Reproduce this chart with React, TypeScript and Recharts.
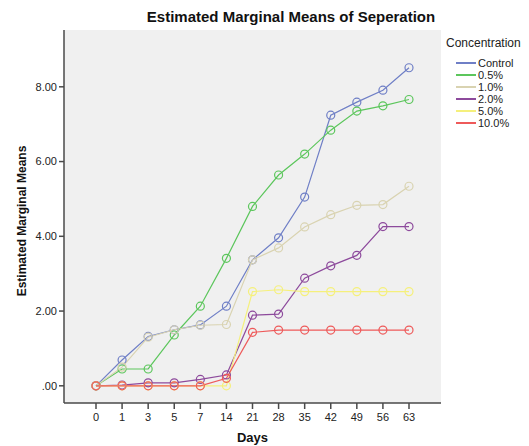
import { LineChart, Line, XAxis, YAxis, CartesianGrid, Legend } from 'recharts'

const days = ['0', '1', '3', '5', '7', '14', '21', '28', '35', '42', '49', '56', '63']

const control = [0, 0.69, 1.32, 1.5, 1.63, 2.13, 3.37, 3.96, 5.05, 7.24, 7.59, 7.91, 8.51]
const conc05 = [0, 0.45, 0.45, 1.36, 2.13, 3.41, 4.8, 5.64, 6.2, 6.84, 7.35, 7.49, 7.66]
const conc10 = [0, 0.5, 1.3, 1.5, 1.62, 1.64, 3.37, 3.69, 4.25, 4.58, 4.83, 4.85, 5.34]
const conc20 = [0, 0.02, 0.08, 0.08, 0.17, 0.29, 1.89, 1.92, 2.88, 3.21, 3.49, 4.26, 4.26]
const conc50 = [0, 0, 0, 0, 0, 0, 2.52, 2.57, 2.52, 2.52, 2.52, 2.52, 2.52]
const conc100 = [0, 0, 0, 0, 0, 0.2, 1.43, 1.49, 1.49, 1.49, 1.49, 1.49, 1.49]

const yTicks = [0, 2, 4, 6, 8]

const series = [
  { key: 'control', name: 'Control', color: '#6f7fc6', values: control },
  { key: 'c05', name: '0.5%', color: '#5cc65c', values: conc05 },
  { key: 'c10', name: '1.0%', color: '#d9d3b1', values: conc10 },
  { key: 'c20', name: '2.0%', color: '#8d4a9c', values: conc20 },
  { key: 'c50', name: '5.0%', color: '#f5f07c', values: conc50 },
  { key: 'c100', name: '10.0%', color: '#ee5a5a', values: conc100 },
]

const data = days.map((d, i) => {
  const row: Record<string, string | number> = { day: d }
  series.forEach(s => { row[s.key] = s.values[i] })
  return row
})

const FONT = '"Liberation Sans", Arial, sans-serif'
const FRAME = '#4a4a4a'

// legend drawn in series order (recharts sorts the payload by name)
function LegendBox() {
  return (
    <div style={{ fontFamily: FONT, color: '#222' }}>
      <div style={{ fontSize: 12, lineHeight: '14px', marginBottom: 7 }}>Concentration</div>
      {series.map(s => (
        <div key={s.key} style={{ display: 'flex', alignItems: 'center', height: 12, fontSize: 11, paddingLeft: 10 }}>
          <span style={{ display: 'inline-block', width: 20, height: 1.5, background: s.color, marginRight: 2 }} />
          <span>{s.name}</span>
        </div>
      ))}
    </div>
  )
}

export default function App() {
  return (
    <div style={{ position: 'absolute', left: 0, top: 0, width: 529, height: 446, background: '#fff', fontFamily: FONT }}>
      <div style={{ position: 'absolute', left: 91, width: 400, top: 8, textAlign: 'center', fontSize: 15, fontWeight: 'bold', color: '#111' }}>
        Estimated Marginal Means of Seperation
      </div>
      <div style={{ position: 'absolute', left: 22, top: 221, width: 0, height: 0 }}>
        <div style={{ position: 'absolute', left: 0, top: 0, transform: 'translate(-50%, -50%) rotate(-90deg)', whiteSpace: 'nowrap', fontSize: 12, fontWeight: 'bold', color: '#111' }}>
          Estimated Marginal Means
        </div>
      </div>
      <div style={{ position: 'absolute', left: 64, width: 377, top: 430, textAlign: 'center', fontSize: 13, fontWeight: 'bold', color: '#111' }}>
        Days
      </div>
      <LineChart width={529} height={446} data={data} margin={{ top: 30, right: 88, bottom: 0, left: 0 }} style={{ position: 'absolute', left: 0, top: 0 }}>
        <CartesianGrid horizontal={false} vertical={false} fill="#f0f0f0" />
        <XAxis dataKey="day" type="category" scale="point" padding={{ left: 32, right: 32 }} height={43}
          tick={{ fill: '#222', fontSize: 11 }} tickSize={6} tickMargin={4}
          axisLine={{ stroke: FRAME, strokeWidth: 1.5 }} tickLine={{ stroke: FRAME, strokeWidth: 1.5 }} />
        <XAxis xAxisId="top" orientation="top" dataKey="day" height={0} tick={false} tickLine={false}
          axisLine={{ stroke: FRAME, strokeWidth: 1.5 }} />
        <YAxis type="number" domain={[-0.46, 9.52]} allowDataOverflow ticks={yTicks} width={64}
          tickFormatter={(v: number) => (v === 0 ? '.00' : v.toFixed(2))}
          tick={{ fill: '#222', fontSize: 11 }} tickSize={5} tickMargin={2}
          axisLine={{ stroke: FRAME, strokeWidth: 1.5 }} tickLine={{ stroke: FRAME, strokeWidth: 1.5 }} />
        <YAxis yAxisId="right" orientation="right" width={0} tick={false} tickLine={false}
          axisLine={{ stroke: FRAME, strokeWidth: 1.5 }} />
        <Legend layout="vertical" align="center" verticalAlign="middle" content={<LegendBox />}
          wrapperStyle={{ left: 446, top: 36, width: 83 }} />
        {series.map(s => (
          <Line key={s.key} dataKey={s.key} name={s.name} stroke={s.color} strokeWidth={1.2}
            dot={{ r: 4, stroke: s.color, strokeWidth: 1.2, fill: 'none' }} activeDot={false}
            isAnimationActive={false} />
        ))}
      </LineChart>
    </div>
  )
}
